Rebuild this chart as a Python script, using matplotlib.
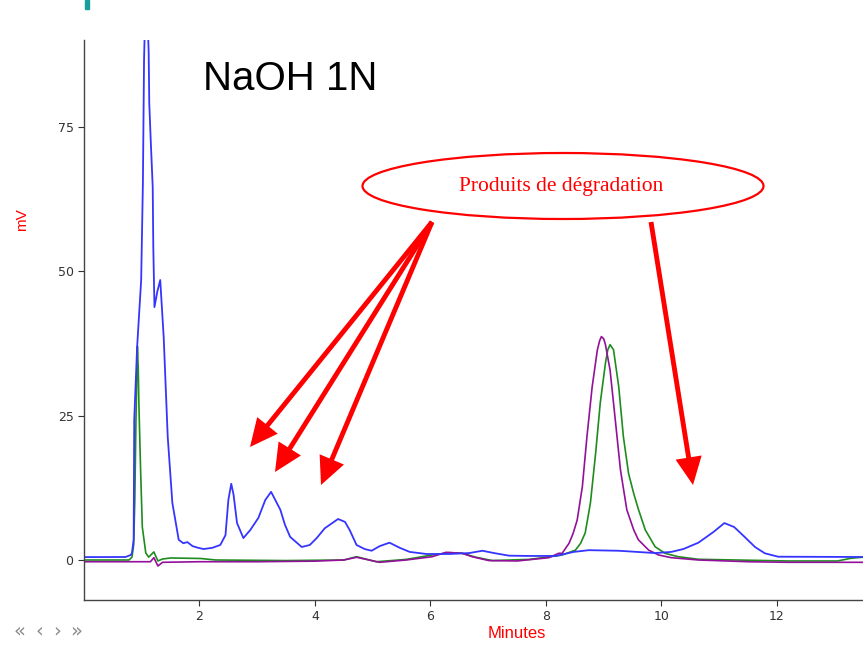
import matplotlib
matplotlib.use("Agg")
import matplotlib.pyplot as plt
from matplotlib.patches import Ellipse, Rectangle, FancyArrowPatch

# chromatogram traces: (minutes, mV)
blue_t = [0.0, 0.72, 0.81, 0.83, 0.86, 0.87, 0.92, 0.99, 1.02, 1.04, 1.06, 1.08, 1.10,
          1.12, 1.13, 1.155, 1.19, 1.20, 1.22, 1.27, 1.32, 1.38, 1.45, 1.53, 1.64, 1.72,
          1.79, 1.88, 1.98, 2.07, 2.22, 2.36, 2.45, 2.50, 2.55, 2.59, 2.65, 2.76, 2.88,
          3.02, 3.14, 3.24, 3.40, 3.48, 3.57, 3.77, 3.91, 4.03, 4.17, 4.40, 4.52, 4.60,
          4.72, 4.86, 4.98, 5.12, 5.29, 5.47, 5.64, 5.93, 6.33, 6.67, 6.90, 7.10, 7.36,
          7.71, 8.17, 8.48, 8.74, 9.26, 9.89, 10.17, 10.38, 10.64, 10.90, 11.09, 11.26,
          11.44, 11.62, 11.79, 12.02, 13.5]
blue_v = [0.5, 0.52, 0.87, 1.2, 3.5, 24.3, 36.9, 48.5, 65.3, 86.7, 95.0, 98.0, 94.0,
          87.9, 79.2, 72.8, 64.6, 54.2, 43.8, 46.5, 48.5, 38.6, 21.3, 9.9, 3.5, 2.9,
          3.1, 2.4, 2.1, 1.9, 2.1, 2.6, 4.3, 10.4, 13.2, 11.3, 6.4, 3.8, 5.2,
          7.3, 10.4, 11.8, 8.7, 6.1, 4.0, 2.25, 2.6, 3.8, 5.5, 7.1, 6.6, 5.2,
          2.6, 1.9, 1.6, 2.4, 3.0, 2.1, 1.4, 1.04, 1.04, 1.2, 1.6, 1.2, 0.75,
          0.7, 0.7, 1.4, 1.7, 1.6, 1.2, 1.4, 1.9, 3.0, 4.85, 6.4, 5.7,
          4.0, 2.25, 1.16, 0.57, 0.52]

green_t = [0.0, 0.78, 0.83, 0.86, 0.88, 0.90, 0.925, 0.94, 0.95, 0.98, 1.01, 1.07, 1.12,
           1.21, 1.28, 1.36, 1.50, 2.02, 2.28, 3.5, 4.5, 4.72, 5.06, 5.58, 6.03, 6.33,
           6.55, 6.79, 7.07, 7.71, 8.17, 8.28, 8.51, 8.60, 8.68, 8.77, 8.86, 8.94, 9.03,
           9.07, 9.11, 9.17, 9.26, 9.34, 9.43, 9.52, 9.60, 9.72, 9.89, 10.06, 10.29,
           10.64, 12.19, 13.05, 13.28, 13.5]
green_v = [0.0, 0.0, 0.5, 2.6, 10.4, 24.3, 37.0, 32.9, 27.2, 15.6, 5.7, 1.2, 0.5,
           1.4, -0.17, 0.17, 0.35, 0.26, 0.0, -0.1, 0.0, 0.57, -0.3, 0.1, 0.87, 1.27,
           1.16, 0.47, -0.1, 0.1, 0.7, 0.87, 1.7, 2.9, 4.7, 9.9, 18.5, 27.2, 34.1,
           36.4, 37.3, 36.4, 30.0, 21.4, 15.0, 11.5, 8.8, 5.2, 2.3, 1.16, 0.57,
           0.12, -0.17, -0.17, 0.3, 0.5]

mag_t = [0.0, 0.9, 1.15, 1.21, 1.28, 1.36, 2.0, 3.0, 4.0, 4.5, 4.72, 5.12, 5.58, 6.03,
         6.27, 6.55, 6.72, 7.01, 7.5, 8.05, 8.22, 8.28, 8.40, 8.47, 8.54, 8.63, 8.71,
         8.80, 8.89, 8.93, 8.96, 9.00, 9.03, 9.11, 9.20, 9.29, 9.40, 9.52, 9.60, 9.78,
         9.95, 10.17, 10.64, 11.5, 12.19, 13.5]
mag_v = [-0.3, -0.3, -0.3, 0.4, -1.04, -0.4, -0.3, -0.3, -0.2, 0.0, 0.47, -0.4, 0.0, 0.57,
         1.33, 1.16, 0.57, -0.1, -0.17, 0.4, 1.16, 1.16, 2.9, 4.6, 6.9, 12.7, 21.4,
         30.0, 36.4, 38.0, 38.7, 38.3, 37.3, 32.9, 24.3, 15.6, 8.7, 5.2, 3.5, 1.7,
         0.87, 0.4, 0.0, -0.3, -0.4, -0.4]

x_ticks = [2, 4, 6, 8, 10, 12]
y_ticks = [0, 25, 50, 75]

W, H = 863, 647
fig = plt.figure(figsize=(W / 100, H / 100), dpi=100)
ax = fig.add_axes([84 / W, 1 - 600 / H, (W - 84) / W, 560 / H])

ax.plot(green_t, green_v, color="#1e8c1e", lw=1.2)
ax.plot(mag_t, mag_v, color="#93119a", lw=1.2)
ax.plot(blue_t, blue_v, color="#3535ff", lw=1.3)

ax.set_xlim(0, 13.49)
ax.set_ylim(-6.93, 90.07)
ax.set_xticks(x_ticks)
ax.set_yticks(y_ticks)
ax.tick_params(labelsize=9, colors="#333333", length=4, width=0.8)
for s in ["top", "right"]:
    ax.spines[s].set_visible(False)
for s in ["left", "bottom"]:
    ax.spines[s].set_color("#444444")
    ax.spines[s].set_linewidth(1.0)

def fx(px):
    return px / W

def fy(py):
    return 1 - py / H

fig.text(fx(22), fy(220), "mV", color="red", fontsize=11, rotation=90,
         ha="center", va="center", family="Liberation Sans")
fig.text(fx(517), fy(634), "Minutes", color="red", fontsize=12,
         ha="center", va="center", family="Liberation Sans")
for px, ch in zip([19, 39, 57, 76], ["\u00ab", "\u2039", "\u203a", "\u00bb"]):
    fig.text(fx(px), fy(631), ch, color="#8a8a8a", fontsize=14,
             ha="center", va="center")
fig.text(fx(203), fy(79), "NaOH 1N", color="black", fontsize=29,
         ha="left", va="center", family="Liberation Sans")

fig.patches.append(Rectangle((fx(85), fy(9)), 4 / W, 9 / H, transform=fig.transFigure,
                             color="#1a9e9a"))

ell = Ellipse((fx(563), fy(186)), 401 / W, 66 / H, transform=fig.transFigure,
              facecolor="white", edgecolor="red", lw=1.6, zorder=5)
fig.patches.append(ell)
fig.text(fx(561), fy(186), "Produits de d\u00e9gradation", color="red", fontsize=15.5,
         ha="center", va="center", family="Liberation Serif", zorder=6)

arrows = [((432, 222), (250, 447)), ((432, 222), (275, 472)),
          ((432, 222), (321, 485)), ((651, 222), (693, 485))]
for (x0, y0), (x1, y1) in arrows:
    fig.patches.append(FancyArrowPatch(
        (fx(x0), fy(y0)), (fx(x1), fy(y1)), transform=fig.transFigure,
        arrowstyle="simple,head_length=2.0,head_width=1.9,tail_width=0.35",
        mutation_scale=10, color="red", lw=0, shrinkA=0, shrinkB=0, zorder=4))

fig.savefig("out.png", dpi=100)
